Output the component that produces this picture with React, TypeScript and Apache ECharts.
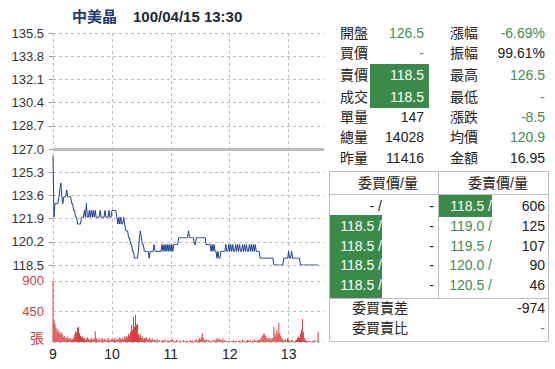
import React, { useEffect, useRef } from 'react';
import * as echarts from 'echarts';

// ---------- data ----------
const stockName = '中美晶';
const stamp = '100/04/15 13:30';
const xTickLabels = ['9', '10', '11', '12', '13'];
const priceTickLabels = ['118.5', '120.2', '121.9', '123.6', '125.3', '127.0', '128.7', '130.4', '132.1', '133.8', '135.5'];
const volumeTickLabels = ['張', '450', '900'];
const prevClose = 127.0;

// one value per minute from 09:00 to 13:30
const prices = [
  126.5, 122, 123, 123, 123, 123, 123.5, 124, 124.5, 123.5,
  123, 123.5, 123.5, 123.5, 124, 123.5, 123.5, 123.5, 123.5, 123,
  123, 122.5, 122.5, 122, 122, 121.5, 121.5, 121.5, 121.5, 122,
  122, 122, 122.5, 122, 123, 122, 122, 122.5, 122, 122.5,
  122, 122.5, 122, 122.5, 122, 122, 122, 122, 122.5, 122,
  122, 122, 122, 122.5, 122, 122, 122, 122.5, 122, 122,
  122.5, 122.5, 122.5, 122.5, 122.5, 122, 121.5, 122, 121.5, 122,
  121.5, 121.5, 122, 121.5, 121, 121, 121, 120.5, 120.5, 120,
  120, 119.5, 119.5, 119, 119, 119, 119, 119.5, 120.5, 121,
  120.5, 120, 120, 119.5, 119.5, 119.5, 119.5, 119.5, 119, 119.5,
  119.5, 119.5, 119.5, 120, 119.5, 119.5, 119.5, 119.5, 119.5, 119.5,
  119.5, 120, 119.5, 120, 119.5, 120, 119.5, 120, 119.5, 120,
  119.5, 120, 119.5, 120, 120, 120, 120, 120, 120.5, 120.5,
  120.5, 120.5, 120.5, 120.5, 120.5, 120.5, 120.5, 120.5, 121, 120.5,
  120.5, 120.5, 120.5, 120.5, 120, 120, 120.5, 120.5, 120.5, 120.5,
  120.5, 120.5, 120.5, 120.5, 120.5, 120.5, 120, 120, 120, 120,
  120, 119.5, 120, 119.5, 120, 119.5, 119.5, 119, 119.5, 119,
  119, 119.5, 119.5, 119.5, 119.5, 119.5, 120, 119.5, 119.5, 120,
  119.5, 120, 119.5, 120, 119.5, 119.5, 120, 119.5, 120, 119.5,
  120, 119.5, 119.5, 120, 119.5, 120, 119.5, 120, 119.5, 119.5,
  120, 119.5, 120, 119.5, 120, 119.5, 120, 119.5, 119.5, 119.5,
  119.5, 119, 119, 119, 119, 119, 119, 119, 119, 119,
  119, 119, 119, 119, 119, 118.5, 118.5, 118.5, 118.5, 118.5,
  118.5, 118.5, 118.5, 118.5, 118.5, 119, 119, 119, 119, 119,
  119.5, 119, 119, 119.5, 119, 119, 119, 119, 119, 119,
  119, 119, 118.5, 118.5, 118.5, 118.5, 118.5, 118.5, 118.5, 118.5,
  118.5, 118.5, 118.5, 118.5, 118.5, 118.5, 118.5, 118.5, 118.5, 118.5,
  118.5,
];

const volumes = [
  900, 320, 270, 210, 160, 190, 130, 150, 110, 140,
  100, 70, 90, 50, 60, 80, 40, 50, 60, 30,
  40, 60, 110, 160, 140, 210, 220, 130, 90, 70,
  80, 50, 60, 30, 40, 70, 50, 30, 40, 60,
  30, 50, 40, 160, 60, 40, 30, 50, 20, 40,
  60, 30, 40, 50, 20, 30, 60, 40, 20, 30,
  50, 30, 40, 60, 20, 50, 30, 40, 70, 50,
  40, 60, 30, 80, 50, 90, 70, 120, 100, 150,
  250, 180, 370, 220, 400, 250, 270, 120, 80, 110,
  60, 80, 40, 60, 50, 70, 40, 30, 60, 40,
  30, 50, 20, 40, 30, 10, 40, 20, 30, 10,
  0, 20, 30, 10, 40, 20, 0, 30, 10, 20,
  30, 10, 40, 20, 0, 10, 30, 20, 0, 10,
  20, 0, 10, 30, 10, 0, 20, 10, 0, 10,
  30, 10, 20, 0, 10, 20, 40, 10, 30, 60,
  40, 70, 130, 60, 30, 20, 40, 10, 30, 20,
  10, 0, 20, 30, 10, 40, 20, 60, 30, 50,
  40, 30, 20, 50, 10, 30, 20, 10, 0, 20,
  10, 0, 20, 10, 30, 0, 10, 20, 0, 10,
  20, 10, 0, 30, 10, 20, 0, 10, 30, 20,
  10, 30, 0, 20, 10, 40, 20, 10, 30, 20,
  40, 30, 60, 90, 110, 130, 100, 80, 60, 40,
  70, 50, 30, 60, 60, 220, 120, 80, 170, 120,
  280, 130, 90, 60, 40, 30, 20, 40, 20, 60,
  30, 20, 10, 30, 20, 10, 0, 20, 30, 60,
  80, 60, 120, 180, 340, 150, 60, 30, 20, 10,
  10, 20, 10, 0, 20, 10, 30, 10, 0, 20,
  150,
];

const infoLabelsL = ['開盤', '買價', '賣價', '成交', '單量', '總量', '昨量'];
const infoValuesL = ['126.5', '-', '118.5', '118.5', '147', '14028', '11416'];
const infoLabelsR = ['漲幅', '振幅', '最高', '最低', '漲跌', '均價', '金額'];
const infoValuesR = ['-6.69%', '99.61%', '126.5', '-', '-8.5', '120.9', '16.95'];

const bookHeaders = ['委買價/量', '委賣價/量'];
const bidPrices = ['-', '118.5', '118.5', '118.5', '118.5'];
const bidVols = ['-', '-', '-', '-', '-'];
const askPrices = ['118.5', '119.0', '119.5', '120.0', '120.5'];
const askVols = ['606', '125', '107', '90', '46'];
const bookFooterLabels = ['委買賣差', '委買賣比'];
const bookFooterValues = ['-974', '-'];

// ---------- styles ----------
const FONT = '"Liberation Sans", Arial, "Noto Sans CJK TC", sans-serif';
const GREEN_BG = '#3b8a4a';
const GREEN_TX = '#3f8f4c';
const DARK = '#222';
const GRAY = '#777';
const GRID_LINE = '#bdbdbd';

const infoRowsY = [33, 53, 75, 97, 117, 137, 158];
const leftValColors = [GREEN_TX, GRAY, '#fff', '#fff', DARK, DARK, DARK];
const rightValColors = [GREEN_TX, DARK, GREEN_TX, GRAY, GREEN_TX, GREEN_TX, DARK];
const bookRowsY = [206, 226, 246, 265, 285];

function txt(x: number, y: number, text: string, fill: string, align = 'left', size = 14, weight = 'normal') {
  return {
    type: 'text',
    x,
    y,
    silent: true,
    z: 10,
    style: {
      text,
      fill,
      font: `${weight} ${size}px ${FONT}`,
      align,
      verticalAlign: 'middle',
    },
  };
}

export default function App() {
  const ref = useRef<HTMLDivElement>(null);

  useEffect(() => {
    if (!ref.current) return;
    const chart = echarts.init(ref.current, undefined, { renderer: 'svg' });

    const graphics: any[] = [];
    graphics.push(txt(72, 16, stockName, '#1e3a7a', 'left', 15, 'bold'));
    graphics.push(txt(133, 16, stamp, '#1b2735', 'left', 15, 'bold'));

    // upper info table
    graphics.push({ type: 'rect', silent: true, z: 5, shape: { x: 370, y: 64, width: 59, height: 44 }, style: { fill: GREEN_BG } });
    infoLabelsL.forEach((l, i) => {
      graphics.push(txt(340, infoRowsY[i], l, DARK));
      graphics.push(txt(424, infoRowsY[i], infoValuesL[i], leftValColors[i], 'right'));
      graphics.push(txt(450, infoRowsY[i], infoLabelsR[i], DARK));
      graphics.push(txt(545, infoRowsY[i], infoValuesR[i], rightValColors[i], 'right'));
    });

    // order book
    graphics.push({ type: 'rect', silent: true, z: 5, shape: { x: 438, y: 194, width: 54, height: 23 }, style: { fill: GREEN_BG } });
    graphics.push({ type: 'rect', silent: true, z: 5, shape: { x: 329, y: 215, width: 53, height: 83 }, style: { fill: GREEN_BG } });
    graphics.push({ type: 'rect', silent: true, z: 6, shape: { x: 329.5, y: 171.5, width: 219, height: 170 }, style: { fill: 'none', stroke: GRID_LINE, lineWidth: 1 } });
    graphics.push({ type: 'line', silent: true, z: 6, shape: { x1: 329.5, y1: 194.5, x2: 548.5, y2: 194.5 }, style: { stroke: GRID_LINE, lineWidth: 1 } });
    graphics.push({ type: 'line', silent: true, z: 6, shape: { x1: 438.5, y1: 171.5, x2: 438.5, y2: 298.5 }, style: { stroke: GRID_LINE, lineWidth: 1 } });
    graphics.push({ type: 'line', silent: true, z: 6, shape: { x1: 329.5, y1: 298.5, x2: 548.5, y2: 298.5 }, style: { stroke: GRID_LINE, lineWidth: 1 } });
    graphics.push(txt(388, 183, bookHeaders[0], DARK, 'center'));
    graphics.push(txt(498, 183, bookHeaders[1], DARK, 'center'));
    bidPrices.forEach((p, i) => {
      const y = bookRowsY[i];
      graphics.push(txt(382, y, `${p} /`, i === 0 ? DARK : '#fff', 'right'));
      graphics.push(txt(434, y, bidVols[i], DARK, 'right'));
      graphics.push(txt(492, y, `${askPrices[i]} /`, i === 0 ? '#fff' : GREEN_TX, 'right'));
      graphics.push(txt(545, y, askVols[i], DARK, 'right'));
    });
    graphics.push(txt(352, 308, bookFooterLabels[0], DARK));
    graphics.push(txt(545, 308, bookFooterValues[0], DARK, 'right'));
    graphics.push(txt(352, 328, bookFooterLabels[1], DARK));
    graphics.push(txt(545, 328, bookFooterValues[1], GRAY, 'right'));

    const priceMin = parseFloat(priceTickLabels[0]);
    const priceMax = parseFloat(priceTickLabels[priceTickLabels.length - 1]);
    const priceStep = 1.7;

    const dashed = { color: GRID_LINE, type: [3, 3] as any, width: 1 };

    chart.setOption({
      animation: false,
      grid: [
        { left: 53, top: 33, width: 271, height: 232 },
        { left: 53, top: 265, width: 271, height: 77 },
      ],
      xAxis: [
        {
          gridIndex: 0, type: 'value', min: 0, max: 276, interval: 60,
          axisLine: { show: false }, axisTick: { show: false }, axisLabel: { show: false },
          splitLine: { show: true, showMaxLine: false, lineStyle: dashed },
        },
        {
          gridIndex: 1, type: 'value', min: 0, max: 276, interval: 60,
          axisLine: { show: false }, axisTick: { show: false },
          axisLabel: {
            show: true, showMaxLabel: false, margin: 5, color: DARK, fontSize: 14, fontFamily: FONT,
            formatter: (v: number) => (xTickLabels[Math.round(v / 60)] ?? ''),
          },
          splitLine: { show: true, showMaxLine: false, lineStyle: dashed },
        },
      ],
      yAxis: [
        {
          gridIndex: 0, type: 'value', min: priceMin, max: priceMax, interval: priceStep,
          axisLine: { show: false },
          axisTick: { show: true, length: 4, lineStyle: { color: '#999' } },
          axisLabel: {
            margin: 9, color: '#333', fontSize: 13, fontFamily: FONT,
            formatter: (v: number) => priceTickLabels[Math.round((v - priceMin) / priceStep)] ?? '',
          },
          splitLine: { show: true, lineStyle: dashed },
        },
        {
          gridIndex: 1, type: 'value', min: 0, max: 1136, interval: 450,
          axisLine: { show: false }, axisTick: { show: false },
          axisLabel: {
            margin: 9, color: '#d04040', fontSize: 13, fontFamily: FONT,
            formatter: (v: number) => {
              const k = Math.round(v / 450);
              if (Math.abs(v - k * 450) > 1) return '';
              return k === 0 ? `{z|${volumeTickLabels[0]}}` : (volumeTickLabels[k] ?? '');
            },
            rich: { z: { color: '#d04040', fontSize: 14, fontFamily: FONT, padding: [0, 0, 8, 0] } },
          },
          splitLine: { show: true, showMaxLine: false, lineStyle: dashed },
        },
      ],
      series: [
        {
          type: 'bar', xAxisIndex: 1, yAxisIndex: 1,
          data: volumes.map((v, i) => [i, v]),
          barWidth: 1,
          itemStyle: { color: '#d83a3a' },
          silent: true,
        },
        {
          type: 'line', xAxisIndex: 0, yAxisIndex: 0,
          data: prices.map((p, i) => [i, p]),
          showSymbol: false, symbol: 'none',
          lineStyle: { color: '#1f3c96', width: 1 },
          silent: true,
          z: 3,
          markLine: {
            silent: true, symbol: 'none', animation: false,
            label: { show: false },
            lineStyle: { color: '#bdbdbd', width: 3, type: 'solid' },
            data: [{ yAxis: prevClose }],
            z: 2,
          },
        },
      ],
      graphic: graphics,
    });

    return () => chart.dispose();
  }, []);

  return (
    <div
      ref={ref}
      style={{ position: 'fixed', left: 0, top: 0, width: 555, height: 369, background: '#fff' }}
    />
  );
}
